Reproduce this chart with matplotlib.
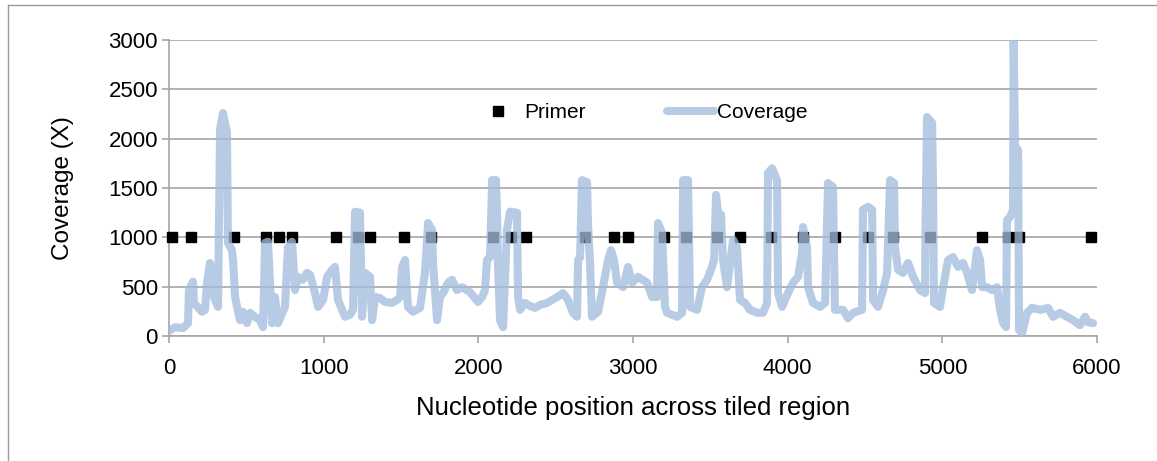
import matplotlib
matplotlib.use("Agg")
import matplotlib.pyplot as plt
from matplotlib.lines import Line2D

plt.rcParams['font.family'] = ['Liberation Sans', 'DejaVu Sans']

# ---- data ----
coverage_x = [0, 39, 90, 123, 129, 155, 162, 213, 233, 246, 265, 285, 297, 317, 330, 349, 375, 381, 407, 414,
              427, 440, 459, 478, 504, 524, 556, 588, 608, 621, 640, 666, 685, 705, 750, 769, 795, 815, 834, 866,
              892, 912, 944, 963, 996, 1022, 1054, 1073, 1093, 1119, 1138, 1170, 1190, 1203, 1235, 1248, 1267, 1300, 1313, 1332,
              1364, 1397, 1442, 1474, 1494, 1507, 1526, 1545, 1578, 1623, 1655, 1675, 1701, 1707, 1733, 1752, 1772, 1804, 1830, 1862,
              1895, 1946, 1998, 2024, 2043, 2056, 2076, 2089, 2114, 2121, 2127, 2140, 2160, 2185, 2205, 2250, 2257, 2270, 2302, 2334,
              2366, 2399, 2444, 2476, 2509, 2548, 2580, 2612, 2638, 2645, 2658, 2670, 2703, 2709, 2722, 2735, 2774, 2806, 2839, 2858,
              2877, 2897, 2936, 2968, 2994, 3033, 3091, 3123, 3155, 3162, 3188, 3207, 3220, 3285, 3317, 3324, 3356, 3369, 3414, 3446,
              3479, 3511, 3524, 3537, 3550, 3569, 3582, 3608, 3647, 3672, 3692, 3724, 3757, 3802, 3841, 3867, 3873, 3899, 3931, 3938,
              3964, 4002, 4035, 4067, 4093, 4099, 4125, 4132, 4164, 4209, 4242, 4261, 4293, 4306, 4358, 4390, 4423, 4481, 4487, 4520,
              4546, 4552, 4584, 4617, 4643, 4662, 4688, 4694, 4714, 4746, 4778, 4811, 4856, 4888, 4891, 4901, 4934, 4940, 4946, 4985,
              5005, 5037, 5069, 5102, 5134, 5160, 5192, 5224, 5244, 5257, 5289, 5321, 5354, 5373, 5393, 5412, 5418, 5438, 5457, 5461,
              5470, 5490, 5496, 5516, 5548, 5580, 5632, 5684, 5716, 5761, 5806, 5845, 5890, 5922, 5942, 5975]
coverage_y = [50, 90, 80, 130, 470, 550, 335, 245, 265, 540, 740, 435, 365, 295, 2090, 2260, 2060, 945, 870, 770,
              395, 295, 160, 245, 130, 235, 195, 160, 90, 945, 955, 130, 395, 130, 295, 900, 955, 465, 600, 570,
              640, 620, 435, 295, 365, 600, 670, 700, 365, 265, 195, 215, 265, 1260, 1250, 195, 640, 600, 160, 395,
              385, 345, 335, 365, 395, 700, 770, 295, 245, 285, 640, 1145, 1075, 740, 160, 395, 435, 540, 570, 465,
              495, 445, 345, 395, 465, 770, 800, 1580, 1580, 1250, 740, 160, 90, 1075, 1260, 1250, 395, 265, 335, 305,
              285, 315, 335, 365, 395, 435, 365, 235, 195, 770, 800, 1580, 1560, 1145, 740, 195, 245, 495, 770, 870,
              770, 540, 495, 700, 540, 600, 540, 395, 395, 1145, 1045, 295, 235, 195, 235, 1580, 1580, 295, 265, 495,
              570, 700, 770, 1430, 1250, 1230, 770, 495, 975, 900, 365, 335, 265, 235, 235, 335, 1650, 1700, 1580, 435,
              295, 435, 540, 600, 840, 1105, 900, 495, 335, 295, 335, 1550, 1510, 265, 265, 180, 235, 265, 1280, 1310,
              1280, 365, 295, 465, 640, 1580, 1550, 900, 670, 640, 740, 600, 465, 435, 1075, 2220, 2160, 1510, 335, 295,
              495, 770, 800, 700, 740, 640, 465, 870, 770, 495, 495, 465, 495, 265, 130, 90, 1175, 1205, 1280, 3000,
              1915, 1885, 60, 30, 235, 285, 265, 285, 195, 235, 195, 160, 110, 195, 140, 130]

primer_x = [20, 142, 420, 627, 711, 795, 1080, 1222, 1300, 1519, 1694, 2095, 2211, 2308, 2690, 2877, 2968,
            3200, 3343, 3543, 3692, 3892, 4099, 4306, 4519, 4681, 4920, 5256, 5425, 5496, 5961]
primer_y = [1000] * len(primer_x)

x_ticks = [0, 1000, 2000, 3000, 4000, 5000, 6000]
y_ticks = [0, 500, 1000, 1500, 2000, 2500, 3000]

# ---- figure ----
W, H = 1157, 461
fig = plt.figure(figsize=(W / 100, H / 100), dpi=100)
ax = fig.add_axes([169 / W, 1 - 336 / H, 928 / W, 296 / H])

grid_c = '#a6a6a6'
ax.set_xlim(0, 6000)
ax.set_ylim(0, 3000)
ax.set_xticks(x_ticks)
ax.set_yticks(y_ticks)
ax.yaxis.grid(True, color=grid_c, linewidth=1.2, zorder=0)
ax.set_axisbelow(True)
for s in ['top', 'right']:
    ax.spines[s].set_visible(False)
for s in ['left', 'bottom']:
    ax.spines[s].set_color(grid_c)
    ax.spines[s].set_linewidth(1.2)
ax.tick_params(axis='both', direction='out', length=5, width=1.2, color=grid_c,
               labelsize=16, labelcolor='black')
ax.tick_params(axis='x', pad=11)
ax.tick_params(axis='y', pad=3)

ax.plot(primer_x, primer_y, linestyle='none', marker='s', markersize=7.5,
        color='black', label='Primer', zorder=3, clip_on=False)
ax.plot(coverage_x, coverage_y, color='#a2bcdd', alpha=0.77, linewidth=5.8,
        solid_joinstyle='round', solid_capstyle='round', label='Coverage', zorder=4)

ax.set_xlabel('Nucleotide position across tiled region', fontsize=18.5, labelpad=12)
ax.set_ylabel('Coverage (X)', fontsize=17.5, labelpad=25)

ax.legend(loc='center', bbox_to_anchor=(0.508, 0.755), ncol=2, frameon=False,
          fontsize=15, handlelength=2.3, handletextpad=0.1, columnspacing=3.9,
          markerscale=0.9)

# chart border (left and top edges visible)
fig.add_artist(Line2D([7.5 / W, 7.5 / W], [0, 1 - 5.5 / H], transform=fig.transFigure,
                      color='#9a9a9a', linewidth=1))
fig.add_artist(Line2D([7.5 / W, 1], [1 - 5.5 / H, 1 - 5.5 / H], transform=fig.transFigure,
                      color='#9a9a9a', linewidth=1))

fig.savefig('out.png', dpi=100)
